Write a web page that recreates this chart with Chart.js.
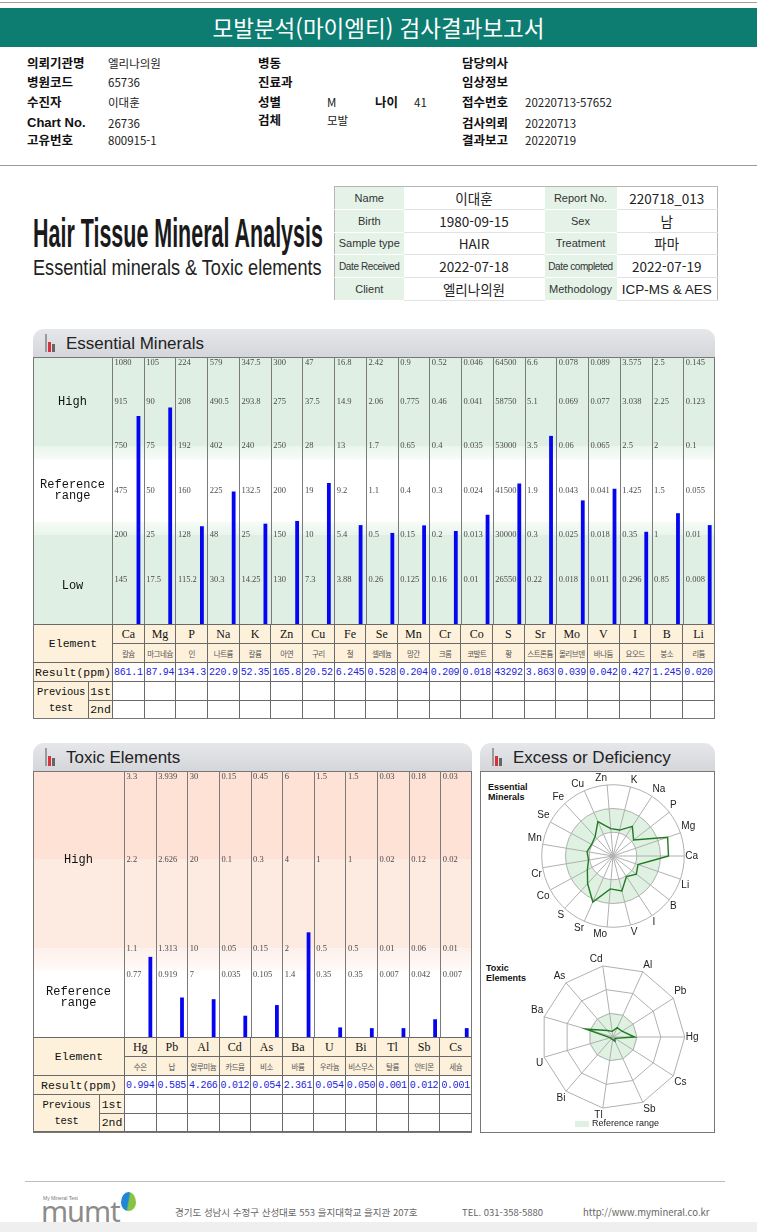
<!DOCTYPE html>
<html lang="ko">
<head>
<meta charset="utf-8">
<title>모발분석(마이엠티) 검사결과보고서</title>
<script src="https://cdn.jsdelivr.net/npm/chart.js@4.4.1/dist/chart.umd.min.js"></script>
<style>
  body { margin: 0; background: #fff; }
  #page { position: relative; width: 757px; height: 1232px; overflow: hidden; background: #fff;
          font-family: 'Noto Sans CJK KR', sans-serif; color: #111; }
  .abs { position: absolute; }
  .lbl { position: absolute; font-weight: bold; font-size: 12.5px; line-height: 16px; }
  .val { position: absolute; font-size: 11.5px; line-height: 16px; color: #222; }
  .phead { position: absolute; height: 28px; border-radius: 11px 11px 0 0;
           background: linear-gradient(#e6e7ea, #d5d6da); font-family: 'Liberation Sans', sans-serif;
           font-size: 17px; line-height: 30px; color: #222; box-sizing: border-box; padding-left: 33px; }
  .ico { position: absolute; left: 12px; bottom: 5px; height: 18px; display: flex; align-items: flex-end; gap: 1px; }
  .ico i { display: block; width: 3px; }
  .frame { position: absolute; border: 1px solid #777; box-sizing: border-box; pointer-events: none; z-index: 3; }
  #info { position: absolute; left: 334px; top: 186px; width: 384px; border-collapse: collapse;
          border: 1px solid #b5b5b5; font-family: 'Liberation Sans', sans-serif; }
  #info td { height: 21.8px; padding: 0; text-align: center; border-bottom: 1px solid #e2e2e2; }
  #info td.k { background: #e4f2e8; font-size: 11px; color: #333; border-bottom: 1px solid #fff; }
  #info td.v { font-size: 13.5px; color: #222; font-family: 'Noto Sans CJK KR', sans-serif; }
  table.rt { position: absolute; border-collapse: collapse; table-layout: fixed; z-index: 2; }
  table.rt td { border: 1px solid #6a6a6a; padding: 0; text-align: center; overflow: hidden; white-space: nowrap; }
  table.rt td.hd { background: #fdf1dc; font-family: 'Liberation Mono', monospace; font-size: 11.5px; color: #111; }
  table.rt td.prev { font-size: 10.5px; letter-spacing: -0.3px; line-height: 16px; }
  table.rt td.sym { background: #fdf1dc; font-family: 'Liberation Serif', serif; font-size: 12px; color: #111; }
  table.rt td.ko { background: #fdf1dc; font-size: 7.5px; color: #555; letter-spacing: -0.5px; }
  table.rt td.res { font-family: 'Liberation Mono', monospace; font-size: 10px; color: #2424e0; letter-spacing: -0.3px; }
</style>
</head>
<body>
<div id="page">
  <div class="abs" style="left:0;top:2px;width:757px;height:1px;background:#a0a0a0"></div>
  <div class="abs" style="left:0;top:8px;width:757px;height:39px;background:#0d7d72;color:#fff;text-align:center;font-size:22.5px;line-height:39px;">모발분석(마이엠티) 검사결과보고서</div>

  <div class="lbl" style="left:27px;top:55px">의뢰기관명</div><div class="val" style="left:108px;top:55px">엘리나의원</div>
  <div class="lbl" style="left:27px;top:74px">병원코드</div><div class="val" style="left:108px;top:74px">65736</div>
  <div class="lbl" style="left:27px;top:94px">수진자</div><div class="val" style="left:108px;top:94px">이대훈</div>
  <div class="lbl" style="left:27px;top:115px;font-family:'Liberation Sans',sans-serif;font-size:13px">Chart No.</div><div class="val" style="left:108px;top:115px">26736</div>
  <div class="lbl" style="left:27px;top:132px">고유번호</div><div class="val" style="left:108px;top:132px">800915-1</div>

  <div class="lbl" style="left:258px;top:55px">병동</div>
  <div class="lbl" style="left:258px;top:74px">진료과</div>
  <div class="lbl" style="left:258px;top:94px">성별</div><div class="val" style="left:327px;top:94px">M</div>
  <div class="lbl" style="left:375px;top:94px">나이</div><div class="val" style="left:414px;top:94px">41</div>
  <div class="lbl" style="left:258px;top:112px">검체</div><div class="val" style="left:327px;top:112px">모발</div>

  <div class="lbl" style="left:462px;top:55px">담당의사</div>
  <div class="lbl" style="left:462px;top:74px">임상정보</div>
  <div class="lbl" style="left:462px;top:94px">접수번호</div><div class="val" style="left:525px;top:94px">20220713-57652</div>
  <div class="lbl" style="left:462px;top:115px">검사의뢰</div><div class="val" style="left:525px;top:115px">20220713</div>
  <div class="lbl" style="left:462px;top:132px">결과보고</div><div class="val" style="left:525px;top:132px">20220719</div>

  <div class="abs" style="left:0;top:165px;width:757px;height:1px;background:#9a9a9a"></div>

  <div id="htTitle" class="abs" style="left:33px;top:211px;font-family:'Liberation Sans Narrow','Liberation Sans',sans-serif;font-weight:bold;font-size:41px;line-height:44px;color:#1a1a1a;transform-origin:0 0;white-space:nowrap">Hair Tissue Mineral Analysis</div>
  <div id="htSub" class="abs" style="left:33px;top:255px;font-family:'Liberation Sans Narrow','Liberation Sans',sans-serif;font-size:22px;line-height:26px;color:#222;transform-origin:0 0;white-space:nowrap">Essential minerals &amp; Toxic elements</div>

  <table id="info">
    <colgroup><col style="width:69px"><col style="width:141px"><col style="width:72px"><col></colgroup>
    <tr><td class="k">Name</td><td class="v">이대훈</td><td class="k">Report No.</td><td class="v">220718_013</td></tr>
    <tr><td class="k">Birth</td><td class="v">1980-09-15</td><td class="k">Sex</td><td class="v">남</td></tr>
    <tr><td class="k">Sample type</td><td class="v">HAIR</td><td class="k">Treatment</td><td class="v">파마</td></tr>
    <tr><td class="k" style="font-size:10px;letter-spacing:-0.4px">Date Received</td><td class="v">2022-07-18</td><td class="k" style="font-size:10px;letter-spacing:-0.4px">Date completed</td><td class="v">2022-07-19</td></tr>
    <tr><td class="k">Client</td><td class="v">엘리나의원</td><td class="k">Methodology</td><td class="v" style="font-family:'Liberation Sans',sans-serif">ICP-MS &amp; AES</td></tr>
  </table>

  <!-- Essential Minerals -->
  <div class="phead" style="left:33px;top:329px;width:682px"><span class="ico"><i style="width:2px;height:18px;background:#9a9a9a"></i><i style="height:10px;background:#d8333a"></i><i style="height:8px;background:#666"></i></span>Essential Minerals</div>
  <div class="abs" style="left:33px;top:357px;width:682px;height:267px"><canvas id="essCanvas" width="682" height="267"></canvas></div>
  <table id="essTable" class="rt" style="left:33px;top:624px;width:682px"></table>
  <div class="frame" style="left:33px;top:357px;width:682px;height:362px"></div>

  <!-- Toxic Elements -->
  <div class="phead" style="left:33px;top:743px;width:439px"><span class="ico"><i style="width:2px;height:18px;background:#9a9a9a"></i><i style="height:10px;background:#d8333a"></i><i style="height:8px;background:#666"></i></span>Toxic Elements</div>
  <div class="abs" style="left:33px;top:771px;width:439px;height:266px"><canvas id="toxCanvas" width="439" height="266"></canvas></div>
  <table id="toxTable" class="rt" style="left:33px;top:1037px;width:439px"></table>
  <div class="frame" style="left:33px;top:771px;width:439px;height:362px"></div>

  <!-- Excess or Deficiency -->
  <div class="phead" style="left:480px;top:743px;width:235px"><span class="ico"><i style="width:2px;height:18px;background:#9a9a9a"></i><i style="height:10px;background:#d8333a"></i><i style="height:8px;background:#666"></i></span>Excess or Deficiency</div>
  <div class="frame" style="left:480px;top:771px;width:235px;height:362px"></div>
  <div class="abs" style="left:488px;top:782px;font-family:'Liberation Sans',sans-serif;font-weight:bold;font-size:9px;line-height:10px;color:#111">Essential<br>Minerals</div>
  <div class="abs" style="left:513px;top:773px;width:200px;height:168px"><canvas id="essRadar" width="200" height="168"></canvas></div>
  <div class="abs" style="left:486px;top:963px;font-family:'Liberation Sans',sans-serif;font-weight:bold;font-size:9px;line-height:10px;color:#111">Toxic<br>Elements</div>
  <div class="abs" style="left:513px;top:953px;width:200px;height:168px"><canvas id="toxRadar" width="200" height="168"></canvas></div>
  <div class="abs" style="left:575px;top:1121px;width:14px;height:6px;background:#dff2e2"></div>
  <div class="abs" style="left:592px;top:1117px;font-family:'Liberation Sans',sans-serif;font-size:9px;line-height:12px;color:#222">Reference range</div>

  <!-- footer -->
  <div class="abs" style="left:25px;top:1181px;width:700px;height:1px;background:#bdbdbd"></div>
  <div class="abs" style="left:43px;top:1195px;font-family:'Liberation Sans',sans-serif;font-size:5px;color:#777">My Mineral Test</div>
  <div class="abs" style="left:41px;top:1196px;font-family:'Noto Sans',sans-serif;font-size:29px;line-height:29px;color:#8c8c8c;letter-spacing:-1px">mumt</div>
  <div class="abs" style="left:121px;top:1192px;width:15px;height:19px;border-radius:50% 50% 50% 50% / 55% 55% 45% 45%;background:linear-gradient(100deg,#1f87d6 45%,#86c441 55%)"></div>
  <div class="abs" style="left:175px;top:1205px;font-size:9.5px;color:#666;white-space:nowrap">경기도 성남시 수정구 산성대로 553 을지대학교 을지관 207호</div>
  <div class="abs" style="left:462px;top:1205px;font-size:9.5px;color:#666">TEL. 031-358-5880</div>
  <div class="abs" style="left:583px;top:1205px;font-size:9.5px;color:#666">http://www.mymineral.co.kr</div>
  <div class="abs" style="left:0;top:1222px;width:757px;height:10px;background:#efefef"></div>
</div>

<script>
// 필수 미네랄 (Essential Minerals)
const essElements = ['Ca', 'Mg', 'P', 'Na', 'K', 'Zn', 'Cu', 'Fe', 'Se', 'Mn', 'Cr', 'Co', 'S', 'Sr', 'Mo', 'V', 'I', 'B', 'Li'];
const essNamesKo = ['칼슘', '마그네슘', '인', '나트륨', '칼륨', '아연', '구리', '철', '셀레늄', '망간', '크롬', '코발트', '황', '스트론튬', '몰리브덴', '바나듐', '요오드', '붕소', '리튬'];
const essResults = [861.1, 87.94, 134.3, 220.9, 52.35, 165.8, 20.52, 6.245, 0.528, 0.204, 0.209, 0.018, 43292, 3.863, 0.039, 0.042, 0.427, 1.245, 0.020];

// 각 칸의 눈금 (아래에서 위로)
const essLowMin  = [145, 17.5, 115.2, 30.3, 14.25, 130, 7.3, 3.88, 0.26, 0.125, 0.16, 0.01, 26550, 0.22, 0.018, 0.011, 0.296, 0.85, 0.008];
const essRefLow  = [200, 25, 128, 48, 25, 150, 10, 5.4, 0.5, 0.15, 0.2, 0.013, 30000, 0.3, 0.025, 0.018, 0.35, 1, 0.01];
const essRefMid  = [475, 50, 160, 225, 132.5, 200, 19, 9.2, 1.1, 0.4, 0.3, 0.024, 41500, 1.9, 0.043, 0.041, 1.425, 1.5, 0.055];
const essRefHigh = [750, 75, 192, 402, 240, 250, 28, 13, 1.7, 0.65, 0.4, 0.035, 53000, 3.5, 0.06, 0.065, 2.5, 2, 0.1];
const essHighMid = [915, 90, 208, 490.5, 293.8, 275, 37.5, 14.9, 2.06, 0.775, 0.46, 0.041, 58750, 5.1, 0.069, 0.077, 3.038, 2.25, 0.123];
const essHighMax = [1080, 105, 224, 579, 347.5, 300, 47, 16.8, 2.42, 0.9, 0.52, 0.046, 64500, 6.6, 0.078, 0.089, 3.575, 2.5, 0.145];

// 유해 원소 (Toxic Elements)
const toxElements = ['Hg', 'Pb', 'Al', 'Cd', 'As', 'Ba', 'U', 'Bi', 'Tl', 'Sb', 'Cs'];
const toxNamesKo = ['수은', '납', '알루미늄', '카드뮴', '비소', '바륨', '우라늄', '비스무스', '탈륨', '안티몬', '세슘'];
const toxResults = [0.994, 0.585, 4.266, 0.012, 0.054, 2.361, 0.054, 0.050, 0.001, 0.012, 0.001];
const toxRefLow  = [0.77, 0.919, 7, 0.035, 0.105, 1.4, 0.35, 0.35, 0.007, 0.042, 0.007];
const toxRefHigh = [1.1, 1.313, 10, 0.05, 0.15, 2, 0.5, 0.5, 0.01, 0.06, 0.01];
const toxHighMid = [2.2, 2.626, 20, 0.1, 0.3, 4, 1, 1, 0.02, 0.12, 0.02];
const toxHighMax = [3.3, 3.939, 30, 0.15, 0.45, 6, 1.5, 1.5, 0.03, 0.18, 0.03];

Chart.defaults.font.family = "'Liberation Sans', sans-serif";

// 결과값을 눈금 단계(0~6)로 변환
const essTicks = [essLowMin, essRefLow, essRefMid, essRefHigh, essHighMid, essHighMax];
function essLevel(i, v) {
  const t = [0].concat(essTicks.map(a => a[i]));
  for (let k = 1; k < t.length; k++) {
    if (v <= t[k]) return k - 1 + (v - t[k - 1]) / (t[k] - t[k - 1]);
  }
  return 6;
}
const essLevels = essResults.map((v, i) => essLevel(i, v));
// 유해 원소는 참고치 상한 기준 배수
const toxLevels = toxResults.map((v, i) => v / toxRefHigh[i]);

function fmt(v) {
  if (v >= 1000) return v.toFixed(0);
  if (v >= 100) return v.toFixed(1);
  if (v >= 10) return v.toFixed(2);
  return v.toFixed(3);
}

// 제목 폭 맞추기
function fitWidth(id, w) {
  const el = document.getElementById(id);
  el.style.transform = 'scaleX(' + (w / el.offsetWidth) + ')';
}
fitWidth('htTitle', 290);
fitWidth('htSub', 289);

// 칸 경계, 눈금, 왼쪽 라벨 그리기
function columnPlugin(opts) {
  return {
    id: opts.id,
    beforeDatasetsDraw(chart) {
      const { ctx, chartArea: a, scales: { x, y } } = chart;
      const W = chart.width;
      const py = v => y.getPixelForValue(v);
      ctx.save();
      opts.bands.forEach(b => {
        if (b.grad) {
          const g = ctx.createLinearGradient(0, py(b.to), 0, py(b.from));
          g.addColorStop(0, b.grad[0]);
          g.addColorStop(1, b.grad[1]);
          ctx.fillStyle = g;
        } else {
          ctx.fillStyle = b.color;
        }
        ctx.fillRect(0, py(b.to), W, py(b.from) - py(b.to));
      });
      const n = opts.labels.length;
      const colW = x.getPixelForValue(1) - x.getPixelForValue(0);
      ctx.strokeStyle = '#7a7a7a';
      ctx.lineWidth = 1;
      ctx.beginPath();
      for (let i = 0; i <= n; i++) {
        const px = Math.round(x.getPixelForValue(i) - colW / 2) + 0.5;
        ctx.moveTo(px, a.top);
        ctx.lineTo(px, a.bottom);
      }
      ctx.stroke();
      ctx.fillStyle = '#4a4a4a';
      ctx.font = "8.5px 'Liberation Serif', serif";
      ctx.textAlign = 'left';
      for (let i = 0; i < n; i++) {
        const left = x.getPixelForValue(i) - colW / 2 + 2.5;
        opts.ticks.forEach(t => {
          const lv = t.level(i);
          const top = lv >= y.max - 1e-9;
          ctx.textBaseline = top ? 'top' : 'middle';
          ctx.fillText(String(t.values[i]), left, top ? py(lv) + 2 : py(lv));
        });
      }
      ctx.fillStyle = '#111';
      ctx.font = "12px 'Liberation Mono', monospace";
      ctx.textAlign = 'center';
      ctx.textBaseline = 'middle';
      opts.sideLabels.forEach(s => {
        s.lines.forEach((ln, j) => ctx.fillText(ln, a.left / 2, py(s.at) + (j - (s.lines.length - 1) / 2) * 11));
      });
      ctx.restore();
    }
  };
}

function barChart(canvasId, labels, levels, yMax, padLeft, plugin) {
  return new Chart(document.getElementById(canvasId), {
    type: 'bar',
    data: {
      labels: labels,
      datasets: [
        { data: [] },
        { data: [] },
        { data: levels, backgroundColor: '#0505f0' }
      ]
    },
    options: {
      responsive: false,
      animation: false,
      layout: { padding: { left: padLeft, top: 0, right: 0, bottom: 0 } },
      datasets: { bar: { categoryPercentage: 1, barPercentage: 0.36 } },
      scales: {
        x: { display: false },
        y: { display: false, min: 0, max: yMax }
      },
      plugins: { legend: { display: false }, tooltip: { enabled: false } }
    },
    plugins: [plugin]
  });
}

barChart('essCanvas', essElements, essLevels, 6, 79, columnPlugin({
  id: 'essCols',
  labels: essElements,
  bands: [
    { from: 4, to: 6, color: '#dfefe3' },
    { from: 3.7, to: 4, grad: ['#eaf5ed', '#f6fbf7'] },
    { from: 2, to: 2.3, grad: ['#f6fbf7', '#eaf5ed'] },
    { from: 0, to: 2, color: '#dfefe3' }
  ],
  ticks: essTicks.map((arr, k) => ({ values: arr, level: () => k + 1 })),
  sideLabels: [
    { at: 5, lines: ['High'] },
    { at: 3, lines: ['Reference', 'range'] },
    { at: 0.85, lines: ['Low'] }
  ]
}));

barChart('toxCanvas', toxElements, toxLevels, 3, 91, columnPlugin({
  id: 'toxCols',
  labels: toxElements,
  bands: [
    { from: 2, to: 3, color: '#fde2d5' },
    { from: 1, to: 2, color: '#fdebe2' },
    { from: 0.75, to: 1, grad: ['#fdf0ea', '#fffaf8'] }
  ],
  ticks: [toxHighMax, toxHighMid, toxRefHigh, toxRefLow].map(arr => ({ values: arr, level: i => arr[i] / toxRefHigh[i] })),
  sideLabels: [
    { at: 2, lines: ['High'] },
    { at: 0.45, lines: ['Reference', 'range'] }
  ]
}));

// 하단 표
function buildTable(id, names, namesKo, results, firstW, secondW) {
  const t = document.getElementById(id);
  let h = '<colgroup><col style="width:' + firstW + 'px"><col style="width:' + secondW + 'px">' + names.map(() => '<col>').join('') + '</colgroup>';
  h += '<tr style="height:19px"><td class="hd" colspan="2" rowspan="2">Element</td>' + names.map(s => '<td class="sym">' + s + '</td>').join('') + '</tr>';
  h += '<tr style="height:19px">' + namesKo.map(s => '<td class="ko">' + s + '</td>').join('') + '</tr>';
  h += '<tr style="height:19px"><td class="hd" colspan="2">Result(ppm)</td>' + results.map(v => '<td class="res">' + fmt(v) + '</td>').join('') + '</tr>';
  h += '<tr style="height:19px"><td class="hd prev" rowspan="2">Previous<br>test</td><td class="hd">1st</td>' + names.map(() => '<td></td>').join('') + '</tr>';
  h += '<tr style="height:18px"><td class="hd">2nd</td>' + names.map(() => '<td></td>').join('') + '</tr>';
  t.innerHTML = h;
}
buildTable('essTable', essElements, essNamesKo, essResults, 55, 24);
buildTable('toxTable', toxElements, toxNamesKo, toxResults, 66, 25);

// 레이더: 첫 원소를 오른쪽에 두고 반시계 방향으로 배치
const ccw = arr => [arr[0]].concat(arr.slice(1).reverse());

function refZone(from, to) {
  return {
    id: 'refZone',
    beforeDraw(chart) {
      const r = chart.scales.r;
      const ctx = chart.ctx;
      ctx.save();
      ctx.fillStyle = '#dff2e2';
      ctx.beginPath();
      ctx.arc(r.xCenter, r.yCenter, r.getDistanceFromCenterForValue(to), 0, Math.PI * 2);
      if (from > 0) ctx.arc(r.xCenter, r.yCenter, r.getDistanceFromCenterForValue(from), 0, Math.PI * 2, true);
      ctx.fill('evenodd');
      ctx.restore();
    }
  };
}

function radarChart(canvasId, labels, values, max, circular, zone) {
  return new Chart(document.getElementById(canvasId), {
    type: 'radar',
    data: {
      labels: ccw(labels),
      datasets: [{ data: ccw(values), borderColor: '#1f7a22', borderWidth: 1.4, pointRadius: 0, fill: false }]
    },
    options: {
      responsive: false,
      animation: false,
      plugins: { legend: { display: false }, tooltip: { enabled: false } },
      scales: {
        r: {
          min: 0, max: max, startAngle: 90,
          ticks: { stepSize: max / 3, display: false },
          grid: { circular: circular, color: '#b0b0b0' },
          angleLines: { color: '#b0b0b0' },
          pointLabels: { font: { size: 10 }, color: '#222', padding: 1 }
        }
      }
    },
    plugins: [zone]
  });
}

radarChart('essRadar', essElements, essLevels, 6, true, refZone(2, 4));
radarChart('toxRadar', toxElements, toxLevels, 3, false, refZone(0, 1));
</script>
</body>
</html>
